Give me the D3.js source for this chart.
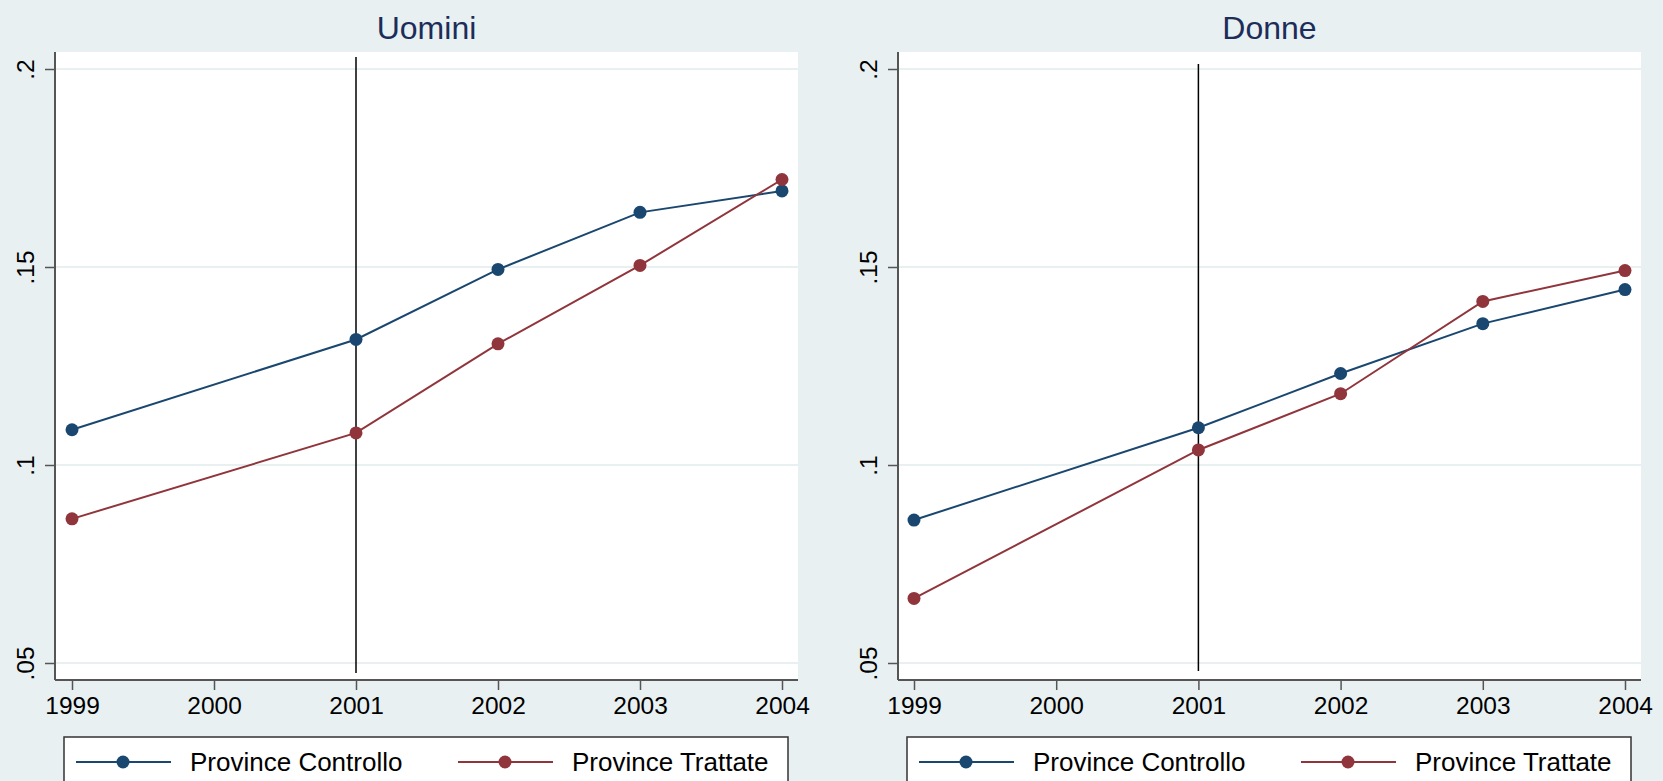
<!DOCTYPE html>
<html>
<head>
<meta charset="utf-8">
<script src="https://cdn.jsdelivr.net/npm/d3@7"></script>
<style>
  html, body { margin: 0; padding: 0; background: #e8f0f2; }
  svg { display: block; }
  text { font-family: "Liberation Sans", Arial, Helvetica, sans-serif; }
</style>
</head>
<body>
<svg id="chart" width="1663" height="781"></svg>
<script>
'use strict';

// data
const years = [1999, 2001, 2002, 2003, 2004];
const xTicks = [1999, 2000, 2001, 2002, 2003, 2004];
const yTicks = [0.05, 0.1, 0.15, 0.2];
const yTickLabels = [".05", ".1", ".15", ".2"];
const seriesNames = ["Province Controllo", "Province Trattate"];
const panelTitles = ["Uomini", "Donne"];

const uominiControllo = [0.1089, 0.1317, 0.1494, 0.1638, 0.1692];
const uominiTrattate  = [0.0864, 0.1081, 0.1306, 0.1504, 0.1721];
const donneControllo  = [0.0861, 0.1094, 0.1231, 0.1357, 0.1443];
const donneTrattate   = [0.0663, 0.1038, 0.1180, 0.1413, 0.1491];

const treatmentYear = 2001;


const colors = ["#1a476f", "#90353b"];
const bg = "#e8f0f2";
const grid = "#e8f0f2";

const svg = d3.select("#chart");
svg.append("rect").attr("width", 1663).attr("height", 781).attr("fill", bg);

const panels = [
  {title: panelTitles[0], series: [uominiControllo, uominiTrattate], left: 55, right: 798, x0: 72, x1: 782, vTop: 5, vBot: 7, legend: 64},
  {title: panelTitles[1], series: [donneControllo, donneTrattate], left: 898, right: 1641, x0: 914, x1: 1625, vTop: 12, vBot: 9, legend: 907}
];

const plotTop = 52, plotBottom = 680;

const y = d3.scaleLinear().domain([0.05, 0.2]).range([663, 69]);


panels.forEach(p => {
  const g = svg.append("g");
  const x = d3.scaleLinear().domain([1999, 2004]).range([p.x0, p.x1]);

  // plot region
  g.append("rect")
    .attr("x", p.left).attr("y", plotTop)
    .attr("width", p.right - p.left).attr("height", plotBottom - plotTop)
    .attr("fill", "#fff");

  // gridlines
  g.selectAll("line.grid")
    .data(yTicks)
    .enter()
    .append("line")
    .attr("class", "grid")
    .attr("x1", p.left).attr("x2", p.right)
    .attr("y1", d => y(d)).attr("y2", d => y(d))
    .attr("stroke", grid).attr("stroke-width", 2);

  // title
  g.append("text")
    .attr("x", (p.left + p.right) / 2).attr("y", 39)
    .attr("text-anchor", "middle")
    .attr("font-size", 32)
    .attr("fill", "#1c2d59")
    .text(p.title);

  // y axis
  const yAxis = d3.axisLeft(y)
    .tickValues(yTicks)
    .tickSize(10)
    .tickFormat((d, i) => yTickLabels[i]);

  const ya = g.append("g")
    .attr("transform", `translate(${p.left},0)`)
    .call(yAxis);
  ya.select(".domain").attr("d", `M0,${plotTop}V${plotBottom}`).attr("stroke", "#555").attr("stroke-width", 2);
  ya.selectAll(".tick line").attr("stroke", "#555").attr("stroke-width", 1.5);
  ya.selectAll(".tick text")
    .attr("font-size", 24.5)
    .attr("fill", "#000")
    .attr("text-anchor", "middle")
    .attr("x", null).attr("dy", null)
    .attr("transform", "translate(-21,0) rotate(-90)");

  // x axis
  const xAxis = d3.axisBottom(x)
    .tickValues(xTicks)
    .tickSize(10)
    .tickFormat(d3.format("d"));

  const xa = g.append("g")
    .attr("transform", `translate(0,${plotBottom})`)
    .call(xAxis);
  xa.select(".domain").attr("d", `M${p.left},0H${p.right}`).attr("stroke", "#555").attr("stroke-width", 2);
  xa.selectAll(".tick line").attr("stroke", "#555").attr("stroke-width", 1.5);
  xa.selectAll(".tick text")
    .attr("font-size", 24.5)
    .attr("fill", "#000")
    .attr("dy", null)
    .attr("y", 34);

  // treatment line
  g.append("line")
    .attr("x1", x(treatmentYear)).attr("x2", x(treatmentYear))
    .attr("y1", plotTop + p.vTop).attr("y2", plotBottom - p.vBot)
    .attr("stroke", "#000").attr("stroke-width", 1.5);

  // series
  const line = d3.line()
    .x((d, i) => x(years[i]))
    .y(d => y(d));

  p.series.forEach((s, k) => {
    g.append("path")
      .datum(s)
      .attr("d", line)
      .attr("fill", "none")
      .attr("stroke", colors[k])
      .attr("stroke-width", 2);

    g.selectAll("circle.s" + k)
      .data(s)
      .enter()
      .append("circle")
      .attr("class", "s" + k)
      .attr("cx", (d, i) => x(years[i]))
      .attr("cy", d => y(d))
      .attr("r", 6.5)
      .attr("fill", colors[k]);
  });

  // legend
  const lg = g.append("g").attr("transform", `translate(${p.legend},737)`);
  lg.append("rect")
    .attr("x", 0).attr("y", 0)
    .attr("width", 724).attr("height", 60)
    .attr("fill", "#fff")
    .attr("stroke", "#333").attr("stroke-width", 1.5);

  seriesNames.forEach((name, k) => {
    const ox = k === 0 ? 12 : 394;
    lg.append("line")
      .attr("x1", ox).attr("x2", ox + 95)
      .attr("y1", 25).attr("y2", 25)
      .attr("stroke", colors[k]).attr("stroke-width", 2);
    lg.append("circle")
      .attr("cx", ox + 47).attr("cy", 25).attr("r", 6.5)
      .attr("fill", colors[k]);
    lg.append("text")
      .attr("x", ox + 114).attr("y", 34)
      .attr("font-size", 26)
      .attr("fill", "#000")
      .text(name);
  });
});
</script>
</body>
</html>
